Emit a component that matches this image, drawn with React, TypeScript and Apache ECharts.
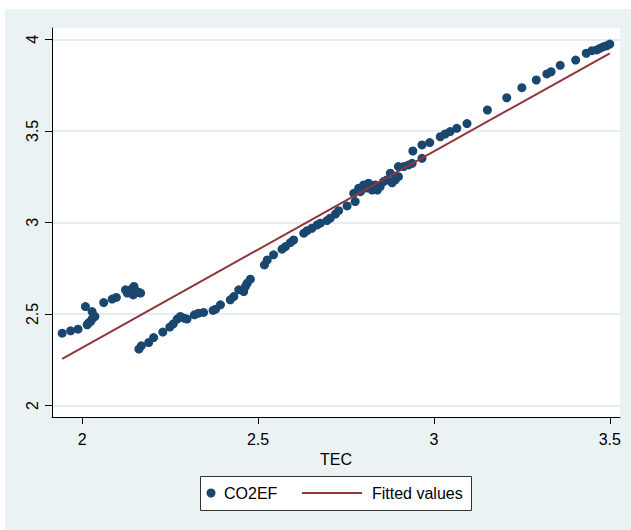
import React, { useEffect, useRef } from "react";
import * as echarts from "echarts";

// TEC values (x) and CO2EF values (y)
const tec: number[] = [
  1.943, 1.967, 1.988, 2.009, 2.014, 2.018, 2.024, 2.028, 2.036, 2.028,
  2.061, 2.085, 2.097, 2.128, 2.123, 2.137, 2.147, 2.156, 2.161, 2.145, 2.166,
  2.161, 2.168, 2.189, 2.203, 2.229, 2.249, 2.259, 2.270, 2.279, 2.289, 2.298,
  2.319, 2.331, 2.345, 2.372, 2.379, 2.393, 2.421, 2.431, 2.445, 2.459, 2.464,
  2.469, 2.478, 2.518, 2.526, 2.544, 2.568, 2.578, 2.592, 2.601, 2.630, 2.639,
  2.653, 2.668, 2.677, 2.696, 2.705, 2.720, 2.729, 2.753, 2.776, 2.772, 2.786,
  2.791, 2.800, 2.808, 2.814, 2.824, 2.833, 2.839, 2.847, 2.857, 2.866, 2.876,
  2.881, 2.890, 2.899, 2.899, 2.914, 2.928, 2.938, 2.940, 2.966, 2.966, 2.988,
  3.018, 3.032, 3.046, 3.065, 3.094, 3.152, 3.207, 3.250, 3.291, 3.321, 3.333,
  3.359, 3.403, 3.433, 3.449, 3.463, 3.472, 3.482, 3.491, 3.500,
];
const co2ef: number[] = [
  2.395, 2.408, 2.417, 2.540, 2.441, 2.451, 2.459, 2.473, 2.486, 2.513,
  2.562, 2.581, 2.590, 2.614, 2.632, 2.632, 2.650, 2.622, 2.617, 2.604, 2.614,
  2.308, 2.326, 2.344, 2.371, 2.401, 2.428, 2.446, 2.472, 2.486, 2.477, 2.472,
  2.495, 2.504, 2.508, 2.519, 2.526, 2.550, 2.577, 2.595, 2.632, 2.622, 2.650,
  2.668, 2.690, 2.768, 2.795, 2.823, 2.854, 2.868, 2.890, 2.904, 2.941, 2.955,
  2.968, 2.986, 2.996, 3.010, 3.023, 3.046, 3.064, 3.090, 3.114, 3.159, 3.187,
  3.168, 3.205, 3.188, 3.214, 3.177, 3.205, 3.177, 3.195, 3.223, 3.232, 3.269,
  3.216, 3.232, 3.250, 3.305, 3.305, 3.314, 3.323, 3.390, 3.350, 3.423, 3.436,
  3.468, 3.483, 3.496, 3.514, 3.540, 3.614, 3.681, 3.736, 3.778, 3.811, 3.823,
  3.858, 3.887, 3.924, 3.938, 3.942, 3.951, 3.960, 3.965, 3.974,
];
// Fitted values line endpoints
const fitX: number[] = [1.943, 3.5];
const fitY: number[] = [2.255, 3.924];

const xTicks: number[] = [2, 2.5, 3, 3.5];
const yTicks: number[] = [2, 2.5, 3, 3.5, 4];

const FONT = "'Liberation Sans', Arial, Helvetica, sans-serif";
const NAVY = "#1A476F";
const MAROON = "#90353B";
const PANEL = "#EAF2F3";

export default function App() {
  const ref = useRef<HTMLDivElement>(null);
  useEffect(() => {
    if (!ref.current) return;
    const chart = echarts.init(ref.current, null, { renderer: "svg" });
    const scatterData = tec.map((x, i) => [x, co2ef[i]]);
    const fitData = fitX.map((x, i) => [x, fitY[i]]);
    chart.setOption({
      animation: false,
      backgroundColor: "#ffffff",
      textStyle: { fontFamily: FONT },
      graphic: [
        {
          type: "rect",
          z: -10,
          silent: true,
          shape: { x: 5, y: 9, width: 626, height: 521 },
          style: { fill: PANEL },
        },
        {
          type: "rect",
          z: -9,
          silent: true,
          shape: { x: 52, y: 28, width: 568, height: 389 },
          style: { fill: "#ffffff" },
        },
        {
          type: "rect",
          z: 10,
          shape: { x: 200.5, y: 476.5, width: 271, height: 34 },
          style: { fill: "#ffffff", stroke: "#333333", lineWidth: 1 },
        },
        {
          type: "circle",
          z: 11,
          shape: { cx: 211, cy: 493, r: 4.5 },
          style: { fill: NAVY },
        },
        {
          type: "text",
          z: 11,
          x: 224,
          y: 493,
          style: {
            text: "CO2EF",
            fill: "#000",
            font: `16px ${FONT}`,
            verticalAlign: "middle",
            align: "left",
          },
        },
        {
          type: "line",
          z: 11,
          shape: { x1: 302, y1: 493, x2: 362, y2: 493 },
          style: { stroke: MAROON, lineWidth: 2 },
        },
        {
          type: "text",
          z: 11,
          x: 372,
          y: 493,
          style: {
            text: "Fitted values",
            fill: "#000",
            font: `16px ${FONT}`,
            verticalAlign: "middle",
            align: "left",
          },
        },
      ],
      grid: { left: 52, top: 28, right: 11, bottom: 113, containLabel: false },
      xAxis: {
        type: "value",
        min: 1.914,
        max: 3.529,
        name: "TEC",
        nameLocation: "middle",
        nameGap: 31,
        nameTextStyle: { fontSize: 16, color: "#000", fontFamily: FONT },
        axisLine: { show: true, onZero: false, lineStyle: { color: "#000", width: 1 } },
        axisTick: { show: true, length: 7, customValues: xTicks, lineStyle: { color: "#000" } },
        axisLabel: {
          customValues: xTicks,
          fontSize: 16,
          color: "#000",
          margin: 14,
          fontFamily: FONT,
          formatter: (v: number) => String(v),
        },
        splitLine: { show: false },
      },
      yAxis: {
        type: "value",
        min: 1.937,
        max: 4.062,
        axisLine: { show: true, onZero: false, lineStyle: { color: "#000", width: 1 } },
        axisTick: { show: true, length: 7, customValues: yTicks, lineStyle: { color: "#000" } },
        axisLabel: {
          customValues: yTicks,
          rotate: 90,
          fontSize: 16,
          color: "#000",
          margin: 12,
          fontFamily: FONT,
          formatter: (v: number) => String(v),
        },
        splitLine: { show: true, lineStyle: { color: "#E4EEF0", width: 2 } },
      },
      series: [
        {
          name: "CO2EF",
          type: "scatter",
          data: scatterData,
          symbol: "circle",
          symbolSize: 9,
          itemStyle: { color: NAVY, opacity: 1 },
          z: 3,
        },
        {
          name: "Fitted values",
          type: "line",
          data: fitData,
          showSymbol: false,
          symbol: "none",
          lineStyle: { color: MAROON, width: 2 },
          z: 4,
        },
      ],
    });
    return () => chart.dispose();
  }, []);
  return (
    <div
      ref={ref}
      style={{ position: "fixed", left: 0, top: 0, width: 631, height: 530 }}
    />
  );
}
